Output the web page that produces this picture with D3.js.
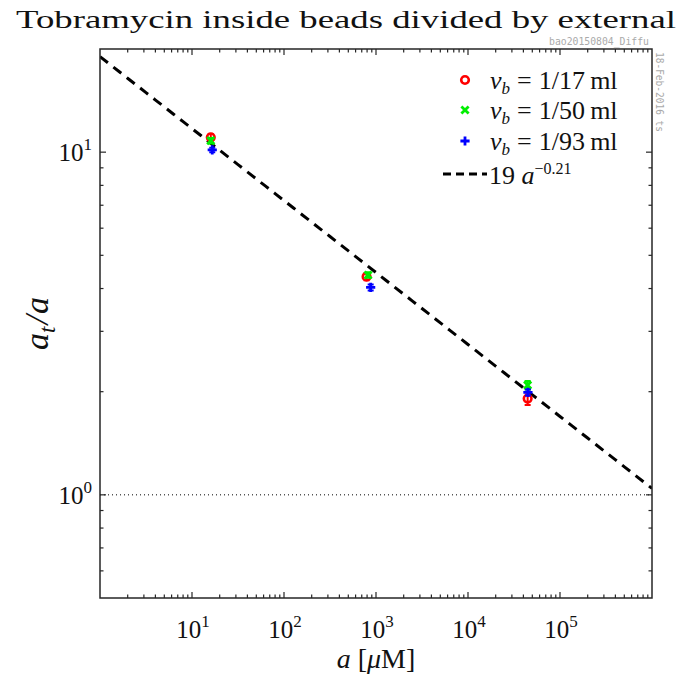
<!DOCTYPE html>
<html><head><meta charset="utf-8">
<script src="https://cdn.jsdelivr.net/npm/d3@7/dist/d3.min.js"></script>
<style>
html,body{margin:0;padding:0;background:#fff;}
svg{display:block;}
</style></head>
<body>
<script>
// ---- data ----
const seriesLabels = ["1/17 ml", "1/50 ml", "1/93 ml"];
const seriesColors = ["#ff0000", "#00ee00", "#0000ff"];
const seriesSymbols = ["circle", "cross", "plus"];
const aRed   = [16.0, 790, 44500];
const yRed   = [11.05, 4.33, 1.91];
const eRed   = [0.25, 0.10, 0.08];
const aGreen = [16.0, 820, 44500];
const yGreen = [10.8, 4.38, 2.09];
const eGreen = [0.20, 0.08, 0.06];
const aBlue  = [16.6, 875, 44800];
const yBlue  = [10.15, 4.03, 1.99];
const eBlue  = [0.15, 0.08, 0.04];
const fitCoef = 19;
const fitExp = -0.21;
const xTickExps = [1, 2, 3, 4, 5];
const yTickExps = [0, 1];
const xDomain = [1, 1e6];
const yDomain = [0.5, 20];

const W = 679, H = 674;
const L = 100, R = 652, T = 49, B = 598;
const serif = "'Liberation Serif', 'Times New Roman', serif";
const mono = "'DejaVu Sans Mono', 'Liberation Mono', monospace";
const axisCol = "#262626";

const svg = d3.select("body").append("svg").attr("width", W).attr("height", H);
const x = d3.scaleLog().domain(xDomain).range([L, R]);
const y = d3.scaleLog().domain(yDomain).range([B, T]);

// dotted line y = 1
svg.append("line").attr("x1", L).attr("x2", R).attr("y1", y(1)).attr("y2", y(1))
  .attr("stroke", "#000").attr("stroke-width", 1).attr("stroke-dasharray", "1,3");

// clip
svg.append("clipPath").attr("id", "clip").append("rect")
  .attr("x", L).attr("y", T).attr("width", R - L).attr("height", B - T);

// fit line
const fitA = d3.range(0, 61).map(i => Math.pow(10, Math.log10(xDomain[0]) + i * (Math.log10(xDomain[1]) - Math.log10(xDomain[0])) / 60));
const line = d3.line().x(d => x(d)).y(d => y(fitCoef * Math.pow(d, fitExp)));
svg.append("path").datum(fitA).attr("d", line).attr("clip-path", "url(#clip)")
  .attr("fill", "none").attr("stroke", "#000").attr("stroke-width", 3)
  .attr("stroke-dasharray", "10,7");

// data
const series = [
  {a: aRed, v: yRed, e: eRed},
  {a: aGreen, v: yGreen, e: eGreen},
  {a: aBlue, v: yBlue, e: eBlue}
];
function drawMarker(g, sym, col, cx, cy) {
  if (sym === "circle") {
    g.append("circle").attr("cx", cx).attr("cy", cy).attr("r", 3.8)
      .attr("fill", "none").attr("stroke", col).attr("stroke-width", 2.6);
  } else if (sym === "cross") {
    const s = 3.6;
    g.append("path").attr("d", `M${cx-s},${cy-s}L${cx+s},${cy+s}M${cx-s},${cy+s}L${cx+s},${cy-s}`)
      .attr("stroke", col).attr("stroke-width", 2.8).attr("fill", "none");
  } else {
    const s = 4.6;
    g.append("path").attr("d", `M${cx-s},${cy}L${cx+s},${cy}M${cx},${cy-s}L${cx},${cy+s}`)
      .attr("stroke", col).attr("stroke-width", 2.8).attr("fill", "none");
  }
}
series.forEach((s, k) => {
  const g = svg.append("g");
  s.a.forEach((a, i) => {
    const cx = x(a), cy = y(s.v[i]);
    const y1 = y(s.v[i] + s.e[i]), y2 = y(s.v[i] - s.e[i]);
    g.append("path").attr("d", `M${cx},${y1}L${cx},${y2}M${cx-3},${y1}L${cx+3},${y1}M${cx-3},${y2}L${cx+3},${y2}`)
      .attr("stroke", seriesColors[k]).attr("stroke-width", 2).attr("fill", "none");
    drawMarker(g, seriesSymbols[k], seriesColors[k], cx, cy);
  });
});

// frame
svg.append("rect").attr("x", L).attr("y", T).attr("width", R - L).attr("height", B - T)
  .attr("fill", "none").attr("stroke", axisCol).attr("stroke-width", 1.5);

// ticks
const isDecade = v => Math.abs(Math.log10(v) - Math.round(Math.log10(v))) < 1e-9;
const xAll = x.ticks();
const xMajor = xAll.filter(v => isDecade(v) && v > xDomain[0] && v < xDomain[1]);
const xMinor = xAll.filter(v => !isDecade(v) && v > xDomain[0] && v < xDomain[1]);
const yAll = y.ticks();
const yMajor = yAll.filter(isDecade);
const yMinor = yAll.filter(v => !isDecade(v) && v > yDomain[0] && v < yDomain[1]);
const tk = svg.append("g").attr("stroke", axisCol).attr("stroke-width", 1.2);
xMajor.forEach(v => {
  tk.append("line").attr("x1", x(v)).attr("x2", x(v)).attr("y1", B).attr("y2", B - 6);
  tk.append("line").attr("x1", x(v)).attr("x2", x(v)).attr("y1", T).attr("y2", T + 6);
});
xMinor.forEach(v => {
  tk.append("line").attr("x1", x(v)).attr("x2", x(v)).attr("y1", B).attr("y2", B - 3.5);
  tk.append("line").attr("x1", x(v)).attr("x2", x(v)).attr("y1", T).attr("y2", T + 3.5);
});
yMajor.forEach(v => {
  tk.append("line").attr("y1", y(v)).attr("y2", y(v)).attr("x1", L).attr("x2", L + 6);
  tk.append("line").attr("y1", y(v)).attr("y2", y(v)).attr("x1", R).attr("x2", R - 6);
});
yMinor.forEach(v => {
  tk.append("line").attr("y1", y(v)).attr("y2", y(v)).attr("x1", L).attr("x2", L + 3.5);
  tk.append("line").attr("y1", y(v)).attr("y2", y(v)).attr("x1", R).attr("x2", R - 3.5);
});

// tick labels
function powLabel(g, px, py, e, anchor) {
  const t = g.append("text").attr("x", px).attr("y", py).attr("text-anchor", anchor)
    .attr("font-family", serif).attr("font-size", 25).attr("fill", "#111");
  t.append("tspan").text("10");
  t.append("tspan").attr("dy", -11).attr("font-size", 17).text(e);
}
xTickExps.forEach(e => powLabel(svg, x(Math.pow(10, e)) + 1, 638, e, "middle"));
yTickExps.forEach(e => powLabel(svg, 92, y(Math.pow(10, e)) + 9, e, "end"));

// axis labels
const xl = svg.append("text").attr("x", (L + R) / 2).attr("y", 668).attr("text-anchor", "middle")
  .attr("font-family", serif).attr("font-size", 28).attr("fill", "#111");
xl.append("tspan").attr("font-style", "italic").text("a");
xl.append("tspan").text(" [");
xl.append("tspan").attr("font-style", "italic").text("μ");
xl.append("tspan").text("M]");

const yl = svg.append("text").attr("transform", `translate(48,${(T + B) / 2}) rotate(-90)`)
  .attr("text-anchor", "middle").attr("font-family", serif).attr("font-size", 34)
  .attr("font-style", "italic").attr("fill", "#111");
yl.append("tspan").text("a");
yl.append("tspan").attr("dy", 7).attr("font-size", 23).text("t");
yl.append("tspan").attr("dy", -7).attr("dx", 2).text("/");
yl.append("tspan").attr("dx", 1).text("a");

// title
svg.append("text").attr("x", 346).attr("y", 28).attr("text-anchor", "middle")
  .attr("font-family", serif).attr("font-size", 26).attr("fill", "#111")
  .attr("textLength", 660).attr("lengthAdjust", "spacingAndGlyphs")
  .text("Tobramycin inside beads divided by external");

// stamps
svg.append("text").attr("x", 549).attr("y", 45).attr("font-family", mono).attr("font-size", 10)
  .attr("fill", "#aaa").attr("textLength", 100).attr("lengthAdjust", "spacingAndGlyphs")
  .text("bao20150804_Diffu");
svg.append("text").attr("transform", "translate(656,52) rotate(90)").attr("font-family", mono)
  .attr("font-size", 10).attr("fill", "#aaa").attr("textLength", 80)
  .attr("lengthAdjust", "spacingAndGlyphs").text("18-Feb-2016 ts");

// legend
const legY = [80, 110, 141];
const lg = svg.append("g");
seriesLabels.forEach((lab, k) => {
  drawMarker(lg, seriesSymbols[k], seriesColors[k], 465, legY[k]);
  const t = lg.append("text").attr("x", 490).attr("y", legY[k] + 9).attr("font-family", serif)
    .attr("font-size", 26).attr("fill", "#111");
  t.append("tspan").attr("font-style", "italic").text("v");
  t.append("tspan").attr("font-style", "italic").attr("font-size", 17).attr("dy", 5).text("b");
  t.append("tspan").attr("dy", -5).attr("dx", 7).text("=");
  t.append("tspan").attr("dx", 7).text(lab.replace(" ", "\u2009"));
});
lg.append("line").attr("x1", 443).attr("x2", 487).attr("y1", 174).attr("y2", 174)
  .attr("stroke", "#000").attr("stroke-width", 3).attr("stroke-dasharray", "8,5");
const ft = lg.append("text").attr("x", 489).attr("y", 184).attr("font-family", serif)
  .attr("font-size", 26).attr("fill", "#111");
ft.append("tspan").text(fitCoef + " ");
ft.append("tspan").attr("font-style", "italic").text("a");
ft.append("tspan").attr("dy", -10).attr("font-size", 16).text("−" + Math.abs(fitExp).toFixed(2));
</script>
</body></html>
